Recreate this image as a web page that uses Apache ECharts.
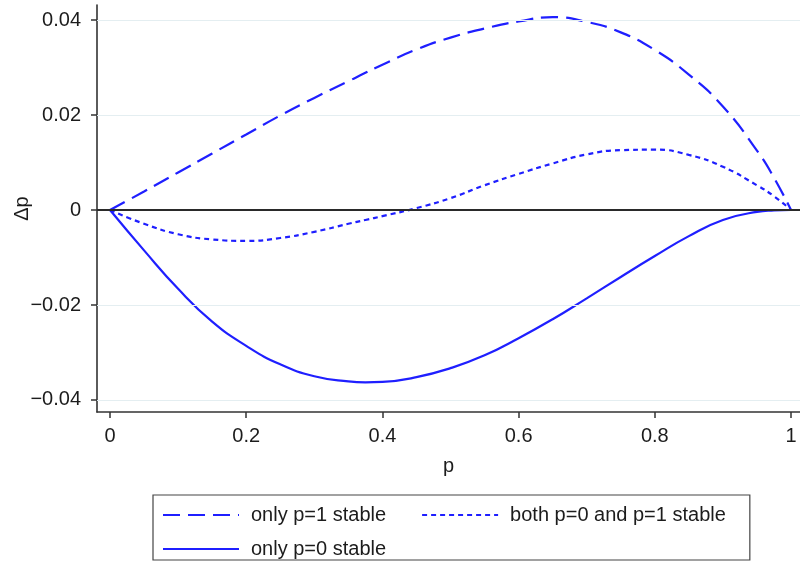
<!DOCTYPE html>
<html>
<head>
<meta charset="utf-8">
<script src="https://cdn.jsdelivr.net/npm/echarts@6/dist/echarts.min.js"></script>
<style>html,body{margin:0;padding:0;background:#fff}#c{width:800px;height:562px}</style>
</head>
<body>
<div id="c"></div>
<script>
// p grid (x values)
const pValues = [0, 0.05, 0.10, 0.15, 0.20, 0.25, 0.30, 0.35, 0.375, 0.40, 0.45, 0.50, 0.55, 0.60, 0.65, 0.70, 0.75, 0.80, 0.85, 0.90, 0.95, 0.975, 1.0];
// Δp for each case
const onlyP1Stable = [0, 0.0039, 0.0079, 0.0119, 0.0159, 0.0199, 0.0236, 0.0271, 0.0289, 0.0306, 0.0338, 0.0363, 0.0382, 0.0397, 0.0406, 0.0396, 0.0374, 0.0337, 0.0285, 0.0218, 0.0125, 0.0068, 0.0];
const bothStable   = [0, -0.0029, -0.0051, -0.0062, -0.0065, -0.0059, -0.0046, -0.0029, -0.0021, -0.0013, 0.0004, 0.0025, 0.0052, 0.0076, 0.0098, 0.0117, 0.0126, 0.0127, 0.0116, 0.0091, 0.0052, 0.0029, 0.0];
const onlyP0Stable = [0, -0.0085, -0.0166, -0.0235, -0.0286, -0.0325, -0.0350, -0.0361, -0.0363, -0.0362, -0.0352, -0.0333, -0.0306, -0.0270, -0.0230, -0.0186, -0.0141, -0.0097, -0.0055, -0.0021, -0.0004, -0.0001, 0.0];

const seriesNames = ['only p=1 stable', 'both p=0 and p=1 stable', 'only p=0 stable'];
const xTicks = [0, 0.2, 0.4, 0.6, 0.8, 1];
const xTickLabels = ['0', '0.2', '0.4', '0.6', '0.8', '1'];
const yTicks = [-0.04, -0.02, 0, 0.02, 0.04];
const yTickLabels = ['\u22120.04', '\u22120.02', '0', '0.02', '0.04'];

const FONT = '"Liberation Sans", Arial, sans-serif';
const BLUE = '#1f1fff';
const TXT = '#1c1c1c';
const pair = (ys) => pValues.map((p, i) => [p, ys[i]]);
const lookup = (ticks, labels) => (v) => {
  let best = 0;
  ticks.forEach((t, i) => { if (Math.abs(t - v) < Math.abs(ticks[best] - v)) best = i; });
  return labels[best];
};
const legendCommon = {
  orient: 'horizontal',
  itemWidth: 76, itemHeight: 14,
  itemStyle: {opacity: 0, borderWidth: 0},
  textStyle: {fontSize: 20, color: TXT, fontFamily: FONT, padding: [0, 0, 0, 7]}
};

const chart = echarts.init(document.getElementById('c'), null, {renderer: 'canvas'});
chart.setOption({
  animation: false,
  backgroundColor: '#fff',
  grid: {left: 97, right: 0, top: 5, bottom: 150, containLabel: false, outerBoundsMode: 'none'},
  xAxis: {
    type: 'value', min: -0.0191, max: 1.0132,
    name: 'p', nameLocation: 'middle', nameGap: 44, nameMoveOverlap: false,
    nameTextStyle: {fontSize: 20, color: TXT, fontFamily: FONT},
    axisLine: {show: true, onZero: false, lineStyle: {color: '#333', width: 1.6}},
    axisTick: {show: true, length: 6, customValues: xTicks, lineStyle: {color: '#333', width: 1.5}},
    axisLabel: {customValues: xTicks, formatter: lookup(xTicks, xTickLabels), fontSize: 20, color: TXT, fontFamily: FONT, margin: 14},
    splitLine: {show: false}
  },
  yAxis: {
    type: 'value', min: -0.04253, max: 0.04316,
    name: '\u0394p', nameLocation: 'middle', nameGap: 65, nameRotate: 90, nameMoveOverlap: false,
    nameTextStyle: {fontSize: 20, color: TXT, fontFamily: FONT},
    axisLine: {show: true, onZero: false, lineStyle: {color: '#333', width: 1.6}},
    axisTick: {show: true, length: 6, customValues: yTicks, lineStyle: {color: '#333', width: 1.5}},
    axisLabel: {customValues: yTicks, formatter: lookup(yTicks, yTickLabels), fontSize: 20, color: TXT, fontFamily: FONT, margin: 16},
    splitLine: {show: false}
  },
  legend: [
    Object.assign({}, legendCommon, {
      left: 153, top: 495,
      padding: [10, 24, 35, 9],
      itemGap: 35,
      borderColor: '#444', borderWidth: 1.2, borderRadius: 0,
      data: [seriesNames[0], seriesNames[1]]
    }),
    Object.assign({}, legendCommon, {
      left: 153, top: 539,
      padding: [0, 0, 0, 9],
      data: [seriesNames[2]]
    })
  ],
  series: [
    {
      name: 'grid', type: 'line', data: [], z: 1, silent: true,
      markLine: {
        silent: true, symbol: 'none', label: {show: false},
        lineStyle: {color: '#e4eef1', width: 1.2, type: 'solid'},
        data: yTicks.filter(v => v !== 0).map(v => ({yAxis: v}))
      }
    },
    {
      name: 'zero', type: 'line', data: [], z: 2, silent: true,
      markLine: {
        silent: true, symbol: 'none', label: {show: false},
        lineStyle: {color: '#2a2a2a', width: 2.2, type: 'solid'},
        data: [{yAxis: 0}]
      }
    },
    {
      name: seriesNames[0], type: 'line', data: pair(onlyP1Stable), smooth: 0.5, showSymbol: false, symbol: 'none', z: 3,
      lineStyle: {color: BLUE, width: 2.2, type: [17, 8]}, itemStyle: {color: BLUE}
    },
    {
      name: seriesNames[1], type: 'line', data: pair(bothStable), smooth: 0.5, showSymbol: false, symbol: 'none', z: 3,
      lineStyle: {color: BLUE, width: 2.2, type: [5, 4]}, itemStyle: {color: BLUE}
    },
    {
      name: seriesNames[2], type: 'line', data: pair(onlyP0Stable), smooth: 0.5, showSymbol: false, symbol: 'none', z: 3,
      lineStyle: {color: BLUE, width: 2.2, type: 'solid'}, itemStyle: {color: BLUE}
    }
  ]
});
</script>
</body>
</html>
